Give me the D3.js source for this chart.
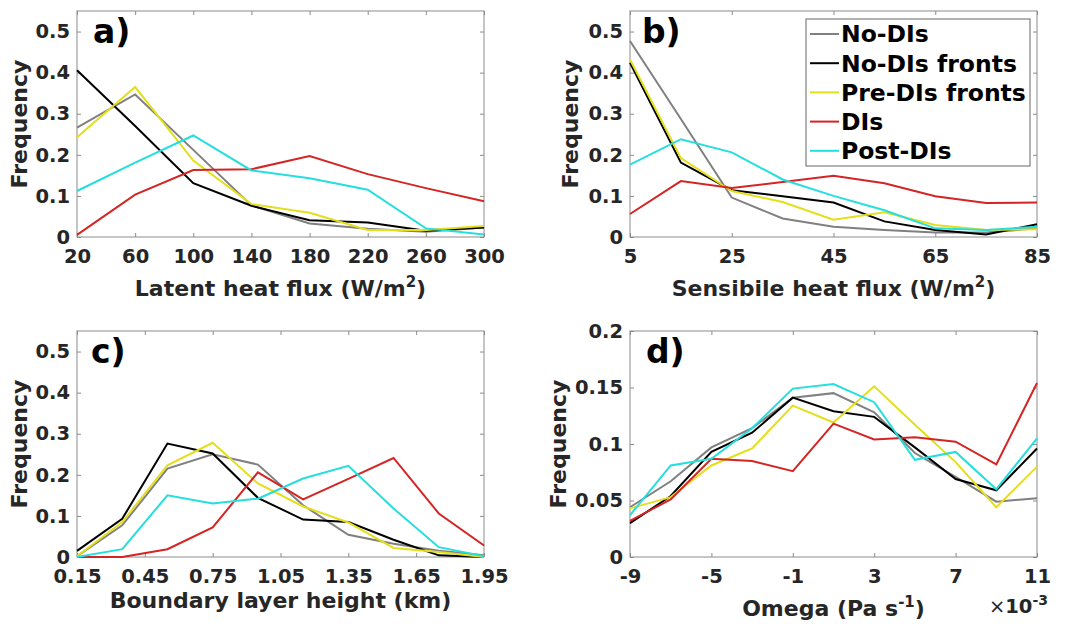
<!DOCTYPE html>
<html>
<head>
<meta charset="utf-8">
<script src="https://cdn.jsdelivr.net/npm/d3@7"></script>
<style>
  body { margin: 0; background: #fff; }
  svg { display: block; font-family: "DejaVu Sans", sans-serif; font-weight: bold; }
</style>
</head>
<body>
<script>
// DATA
const seriesNames = ['No-DIs', 'No-DIs fronts', 'Pre-DIs fronts', 'DIs', 'Post-DIs'];

const latentX = [20, 60, 100, 140, 180, 220, 260, 300];
const latentTicks = [20, 60, 100, 140, 180, 220, 260, 300];
const latentFreq = [
    [0.266, 0.347, 0.212, 0.077, 0.033, 0.020, 0.013, 0.023],
    [0.406, 0.270, 0.131, 0.076, 0.041, 0.035, 0.015, 0.023],
    [0.243, 0.365, 0.186, 0.080, 0.059, 0.017, 0.017, 0.027],
    [0.005, 0.103, 0.163, 0.165, 0.197, 0.153, 0.119, 0.087],
    [0.112, 0.181, 0.247, 0.162, 0.143, 0.115, 0.021, 0.006]
];

const sensX = [5, 15, 25, 35, 45, 55, 65, 75, 85];
const sensTicks = [5, 25, 45, 65, 85];
const sensFreq = [
    [0.477, 0.287, 0.096, 0.045, 0.025, 0.017, 0.011, 0.011, 0.021],
    [0.424, 0.181, 0.114, 0.099, 0.084, 0.038, 0.017, 0.006, 0.031],
    [0.432, 0.192, 0.112, 0.085, 0.042, 0.060, 0.029, 0.017, 0.019],
    [0.056, 0.136, 0.119, 0.134, 0.149, 0.131, 0.099, 0.083, 0.084],
    [0.176, 0.238, 0.206, 0.140, 0.100, 0.065, 0.021, 0.017, 0.025]
];

const blhX = [0.15, 0.35, 0.55, 0.75, 0.95, 1.15, 1.35, 1.55, 1.75, 1.95];
const blhTicks = [0.15, 0.45, 0.75, 1.05, 1.35, 1.65, 1.95];
const blhFreq = [
    [0.002, 0.077, 0.215, 0.250, 0.225, 0.126, 0.054, 0.032, 0.015, 0.004],
    [0.015, 0.093, 0.276, 0.252, 0.144, 0.091, 0.085, 0.042, 0.004, 0.000],
    [0.002, 0.085, 0.223, 0.278, 0.179, 0.123, 0.084, 0.022, 0.012, 0.000],
    [0.000, 0.000, 0.019, 0.072, 0.206, 0.140, 0.190, 0.241, 0.106, 0.028],
    [0.000, 0.019, 0.150, 0.130, 0.142, 0.191, 0.222, 0.118, 0.024, 0.002]
];

// omega in units of 1e-3 Pa/s
const omegaX = [-9, -7, -5, -3, -1, 1, 3, 5, 7, 9, 11];
const omegaTicks = [-9, -5, -1, 3, 7, 11];
const omegaFreq = [
    [0.044, 0.067, 0.097, 0.114, 0.141, 0.145, 0.128, 0.092, 0.071, 0.049, 0.052],
    [0.030, 0.054, 0.093, 0.110, 0.141, 0.129, 0.124, 0.097, 0.069, 0.059, 0.096],
    [0.043, 0.053, 0.081, 0.096, 0.134, 0.119, 0.151, 0.117, 0.084, 0.044, 0.080],
    [0.032, 0.051, 0.087, 0.085, 0.076, 0.118, 0.104, 0.106, 0.102, 0.082, 0.154],
    [0.037, 0.081, 0.087, 0.114, 0.149, 0.153, 0.137, 0.086, 0.093, 0.060, 0.105]
];

const freqTicks = [0, 0.1, 0.2, 0.3, 0.4, 0.5];
const omegaFreqTicks = [0, 0.05, 0.1, 0.15, 0.2];

// STYLE
const width = 1068;
const height = 624;
const seriesColors = ['#808080', '#000000', '#e3df1c', '#d42424', '#25dede'];
const textColor = '#262626';
const boxColor = '#8c8c8c';
const tickFont = 19.5;
const labelFont = 22;

const svg = d3.select('body').append('svg')
    .attr('width', width)
    .attr('height', height);

const panels = [
    {letter: 'a)', box: {x0: 77, x1: 484, y0: 11, y1: 237}, xDomain: [20, 300], yDomain: [0, 0.55],
     xs: latentX, ys: latentFreq, xTicks: latentTicks, yTicks: freqTicks, xFmt: d => d, yFmt: d => d,
     xLabel: ['Latent heat flux (W/m', '2', ')'], yLabelX: 27, letterX: 93},
    {letter: 'b)', box: {x0: 630, x1: 1037, y0: 11, y1: 237}, xDomain: [5, 85], yDomain: [0, 0.55],
     xs: sensX, ys: sensFreq, xTicks: sensTicks, yTicks: freqTicks, xFmt: d => d, yFmt: d => d,
     xLabel: ['Sensibile heat flux (W/m', '2', ')'], yLabelX: 578, letterX: 642, legend: true},
    {letter: 'c)', box: {x0: 77, x1: 484, y0: 331, y1: 557}, xDomain: [0.15, 1.95], yDomain: [0, 0.55],
     xs: blhX, ys: blhFreq, xTicks: blhTicks, yTicks: freqTicks, xFmt: d3.format('.2f'), yFmt: d => d,
     xLabel: ['Boundary layer height (km)'], yLabelX: 27, letterX: 91},
    {letter: 'd)', box: {x0: 630, x1: 1037, y0: 331, y1: 557}, xDomain: [-9, 11], yDomain: [0, 0.2],
     xs: omegaX, ys: omegaFreq, xTicks: omegaTicks, yTicks: omegaFreqTicks, xFmt: d => d, yFmt: d => d,
     xLabel: ['Omega (Pa s', '-1', ')'], yLabelX: 566, letterX: 646, exponent: true}
];

panels.forEach(p => {
    const b = p.box;
    const x = d3.scaleLinear().domain(p.xDomain).range([b.x0, b.x1]);
    const y = d3.scaleLinear().domain(p.yDomain).range([b.y1, b.y0]);
    const g = svg.append('g');

    // box
    g.append('rect')
        .attr('x', b.x0).attr('y', b.y0)
        .attr('width', b.x1 - b.x0).attr('height', b.y1 - b.y0)
        .attr('fill', '#fff')
        .attr('stroke', boxColor)
        .attr('stroke-width', 1);

    // axes, ticks inside
    const bottom = g.append('g').attr('transform', `translate(0,${b.y1})`)
        .call(d3.axisBottom(x).tickValues(p.xTicks).tickFormat(p.xFmt).tickSize(-4).tickPadding(12));
    const top = g.append('g').attr('transform', `translate(0,${b.y0})`)
        .call(d3.axisTop(x).tickValues(p.xTicks).tickFormat('').tickSize(-4));
    const left = g.append('g').attr('transform', `translate(${b.x0},0)`)
        .call(d3.axisLeft(y).tickValues(p.yTicks).tickFormat(p.yFmt).tickSize(-4).tickPadding(7));
    const right = g.append('g').attr('transform', `translate(${b.x1},0)`)
        .call(d3.axisRight(y).tickValues(p.yTicks).tickFormat('').tickSize(-4));

    [bottom, top, left, right].forEach(a => {
        a.select('.domain').remove();
        a.selectAll('line').attr('stroke', boxColor);
        a.selectAll('text')
            .attr('fill', textColor)
            .style('font-size', tickFont + 'px')
            .style('font-weight', 'bold')
            .style('font-family', '"DejaVu Sans", sans-serif');
    });

    // lines
    const line = d3.line().x((d, i) => x(p.xs[i])).y(d => y(d));
    g.selectAll('.series')
      .data(p.ys)
      .enter().append('path')
        .attr('class', 'series')
        .attr('d', line)
        .attr('fill', 'none')
        .attr('stroke', (d, i) => seriesColors[i])
        .attr('stroke-width', 2)
        .attr('stroke-linejoin', 'miter');

    // panel letter
    g.append('text')
        .attr('x', p.letterX)
        .attr('y', b.y0 + 32)
        .style('font-size', '33px')
        .attr('fill', '#000')
        .text(p.letter);

    // x label
    const hasSup = p.xLabel.length > 1;
    const xl = g.append('text')
        .attr('x', (b.x0 + b.x1) / 2)
        .attr('y', b.y1 + (hasSup ? 59 : 51))
        .attr('text-anchor', 'middle')
        .attr('fill', textColor)
        .style('font-size', labelFont + 'px');
    xl.append('tspan').text(p.xLabel[0]);
    if (hasSup) {
        xl.append('tspan').attr('dy', -9).style('font-size', '15px').text(p.xLabel[1]);
        xl.append('tspan').attr('dy', 9).text(p.xLabel[2]);
    }

    // y label
    g.append('text')
        .attr('transform', `translate(${p.yLabelX},${(b.y0 + b.y1) / 2}) rotate(-90)`)
        .attr('text-anchor', 'middle')
        .attr('fill', textColor)
        .style('font-size', labelFont + 'px')
        .text('Frequency');

    if (p.exponent) {
        const ex = g.append('text')
            .attr('x', b.x1 + 11)
            .attr('y', b.y1 + 56)
            .attr('text-anchor', 'end')
            .attr('fill', textColor)
            .style('font-size', tickFont + 'px');
        ex.append('tspan').style('font-weight', 'normal').text('\u00d7');
        ex.append('tspan').text('10');
        ex.append('tspan').attr('dy', -8).style('font-size', '14px').text('-3');
    }

    if (p.legend) {
        const lg = g.append('g');
        lg.append('rect')
            .attr('x', 806).attr('y', 19)
            .attr('width', 224).attr('height', 147)
            .attr('fill', '#fff')
            .attr('stroke', '#666')
            .attr('stroke-width', 1);
        const rows = lg.selectAll('.row')
          .data(seriesNames)
          .enter().append('g')
            .attr('transform', (d, i) => `translate(0,${34 + i * 29.2})`);
        rows.append('line')
            .attr('x1', 810).attr('x2', 839)
            .attr('stroke', (d, i) => seriesColors[i])
            .attr('stroke-width', 2);
        rows.append('text')
            .attr('x', 841)
            .attr('dy', '0.36em')
            .attr('fill', '#000')
            .style('font-size', '23.5px')
            .text(d => d);
    }
});
</script>
</body>
</html>
